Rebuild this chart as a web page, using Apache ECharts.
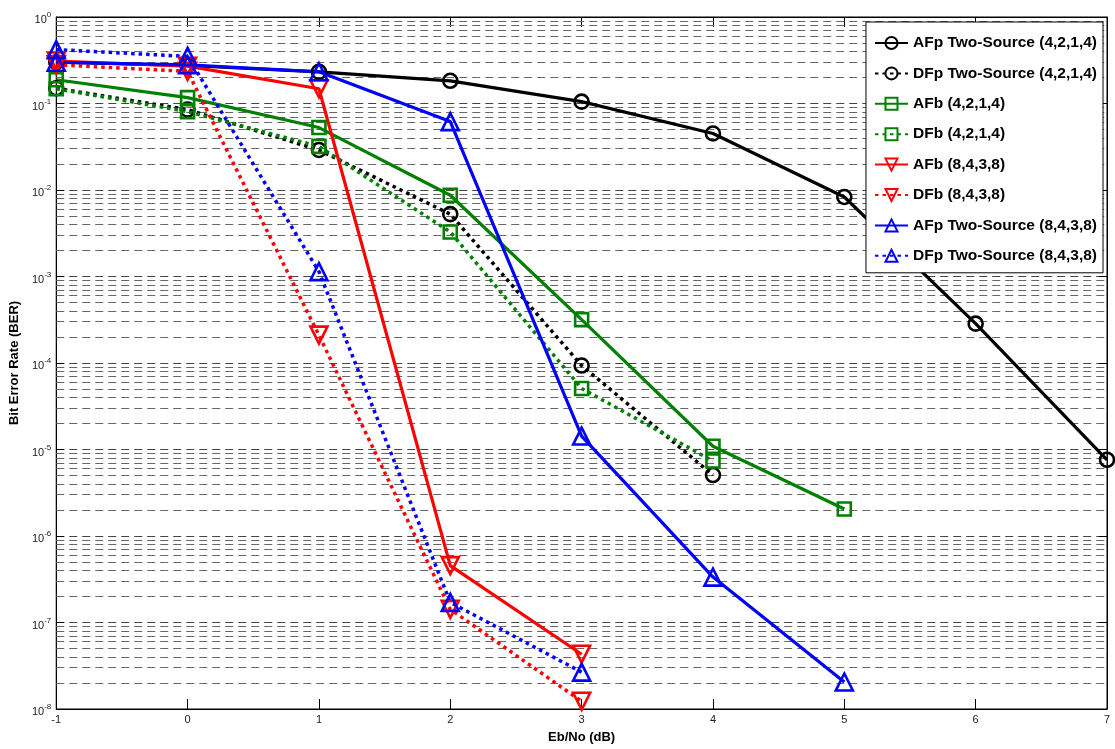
<!DOCTYPE html>
<html>
<head>
<meta charset="utf-8">
<script src="https://cdn.jsdelivr.net/npm/echarts@6/dist/echarts.min.js"></script>
<style>html,body{margin:0;padding:0;background:#fff;}#chart{width:1115px;height:749px;}</style>
</head>
<body>
<div id="chart"></div>
<script>
// Eb/No (dB) values
const ebno = [-1, 0, 1, 2, 3, 4, 5, 6, 7];
// BER values per series (index matches ebno)
const afpTwoSource4214 = [0.30, 0.275, 0.232, 0.183, 0.105, 0.045, 0.0083, 2.85e-4, 7.6e-6];
const dfpTwoSource4214 = [0.15, 0.085, 0.029, 5.26e-3, 9.35e-5, 5.07e-6];
const afb4214 = [0.188, 0.117, 0.0527, 8.7e-3, 3.17e-4, 1.09e-5, 2.05e-6];
const dfb4214 = [0.148, 0.0806, 0.0319, 3.27e-3, 5.08e-5, 7.35e-6];
const afb8438 = [0.31, 0.27, 0.148, 4.55e-7, 4.3e-8];
const dfb8438 = [0.28, 0.235, 2.1e-4, 1.42e-7, 1.23e-8];
const afpTwoSource8438 = [0.30, 0.28, 0.233, 0.0618, 1.43e-5, 3.35e-7, 2.05e-8];
const dfpTwoSource8438 = [0.42, 0.35, 1.14e-3, 1.71e-7, 2.67e-8];
// Axis ticks
const xTicks = [-1, 0, 1, 2, 3, 4, 5, 6, 7];
const yDecades = [-8, -7, -6, -5, -4, -3, -2, -1, 0];
const minorMultipliers = [2, 3, 4, 5, 6, 7, 8, 9];

const seriesNames = [
  'AFp Two-Source (4,2,1,4)', 'DFp Two-Source (4,2,1,4)',
  'AFb (4,2,1,4)', 'DFb (4,2,1,4)',
  'AFb (8,4,3,8)', 'DFb (8,4,3,8)',
  'AFp Two-Source (8,4,3,8)', 'DFp Two-Source (8,4,3,8)'
];
const seriesValues = [afpTwoSource4214, dfpTwoSource4214, afb4214, dfb4214, afb8438, dfb8438, afpTwoSource8438, dfpTwoSource8438];
const colors = ['#000000', '#000000', '#008000', '#008000', '#ff0000', '#ff0000', '#0000ff', '#0000ff'];
const symbols = ['circle', 'circle', 'rect', 'rect', 'triangle', 'triangle', 'triangle', 'triangle'];
const symbolRot = [0, 0, 0, 0, 180, 180, 0, 0];
const symbolSizes = [14, 14, 13, 13, 17, 17, 17, 17];
const dotted = [false, true, false, true, false, true, false, true];

const FONT = 'Arial, "Liberation Sans", Helvetica, sans-serif';

// minor grid positions (structure of the log axis, not data)
const minorLines = [];
yDecades.slice(0, -1).forEach(d => minorMultipliers.forEach(m => minorLines.push({ yAxis: m * Math.pow(10, d) })));

const series = [{
  name: '__grid', type: 'line', data: [], silent: true, symbol: 'none', z: 1,
  markLine: {
    silent: true, symbol: 'none', animation: false, precision: 12, z: 1,
    label: { show: false },
    lineStyle: { color: '#666', width: 1, type: [8, 5] },
    data: minorLines
  }
}];
seriesNames.forEach((n, i) => {
  series.push({
    name: n, type: 'line', z: 3,
    data: seriesValues[i].map((v, k) => [ebno[k], v]),
    symbol: symbols[i], symbolSize: symbolSizes[i], symbolRotate: symbolRot[i],
    showAllSymbol: true,
    color: colors[i],
    lineStyle: { color: colors[i], width: dotted[i] ? 3.5 : 3.2, type: dotted[i] ? [3.5, 4] : 'solid' },
    itemStyle: { color: 'rgba(255,255,255,0)', borderColor: colors[i], borderWidth: 2.6 },
    animation: false
  });
});

const sup = v => {
  const e = Math.round(Math.log10(v));
  return '{b|10}{s|' + e + '}';
};

const chart = echarts.init(document.getElementById('chart'), null, { renderer: 'canvas' });
chart.setOption({
  backgroundColor: '#fff',
  animation: false,
  grid: { left: 54, right: 8, top: 17, bottom: 37, show: true, borderColor: '#000', borderWidth: 1, backgroundColor: 'transparent' },
  legend: {
    data: seriesNames, orient: 'vertical', right: 12, top: 22,
    backgroundColor: '#fff', borderColor: '#000', borderWidth: 1,
    padding: [13, 6, 9, 8], itemGap: 14.4, itemWidth: 33, itemHeight: 15,
    selectedMode: false,
    textStyle: { fontFamily: FONT, fontSize: 15.5, fontWeight: 'bold', color: '#000' }
  },
  xAxis: [{
    type: 'value', min: -1, max: 7, interval: 1,
    name: 'Eb/No (dB)', nameLocation: 'middle', nameGap: 22,
    nameTextStyle: { fontFamily: FONT, fontSize: 13, fontWeight: 'bold', color: '#000' },
    axisLine: { show: true, onZero: false, lineStyle: { color: '#000', width: 1 } },
    axisTick: { show: true, inside: true, length: 10, lineStyle: { color: '#000' } },
    axisLabel: { fontFamily: FONT, fontSize: 11, color: '#222', margin: 5,
      formatter: v => xTicks.includes(v) ? String(v) : '' },
    splitLine: { show: false }
  }, {
    type: 'value', min: -1, max: 7, interval: 1, position: 'top',
    axisLine: { show: true, onZero: false, lineStyle: { color: '#000', width: 1 } },
    axisTick: { show: true, inside: true, length: 10, lineStyle: { color: '#000' } },
    axisLabel: { show: false }, splitLine: { show: false }
  }],
  yAxis: [{
    type: 'log', logBase: 10, min: 1e-8, max: 1, splitNumber: 8,
    name: 'Bit Error Rate (BER)', nameLocation: 'middle', nameGap: 27,
    nameTextStyle: { fontFamily: FONT, fontSize: 13, fontWeight: 'bold', color: '#000' },
    axisLine: { show: true, onZero: false, lineStyle: { color: '#000', width: 1 } },
    axisTick: { show: true, inside: true, length: 8, lineStyle: { color: '#000' } },
    axisLabel: {
      margin: 5, formatter: sup,
      rich: {
        b: { fontFamily: FONT, fontSize: 11, color: '#222', padding: [6, 0, 0, 0] },
        s: { fontFamily: FONT, fontSize: 8, color: '#222', padding: [0, 0, 4, 0] }
      }
    },
    splitLine: { show: true, lineStyle: { color: '#444', width: 1, type: [8, 5] } }
  }, {
    type: 'log', logBase: 10, min: 1e-8, max: 1, splitNumber: 8, position: 'right',
    axisLine: { show: true, onZero: false, lineStyle: { color: '#000', width: 1 } },
    axisTick: { show: true, inside: true, length: 8, lineStyle: { color: '#000' } },
    axisLabel: { show: false }, splitLine: { show: false }
  }],
  series: series
});
</script>
</body>
</html>
